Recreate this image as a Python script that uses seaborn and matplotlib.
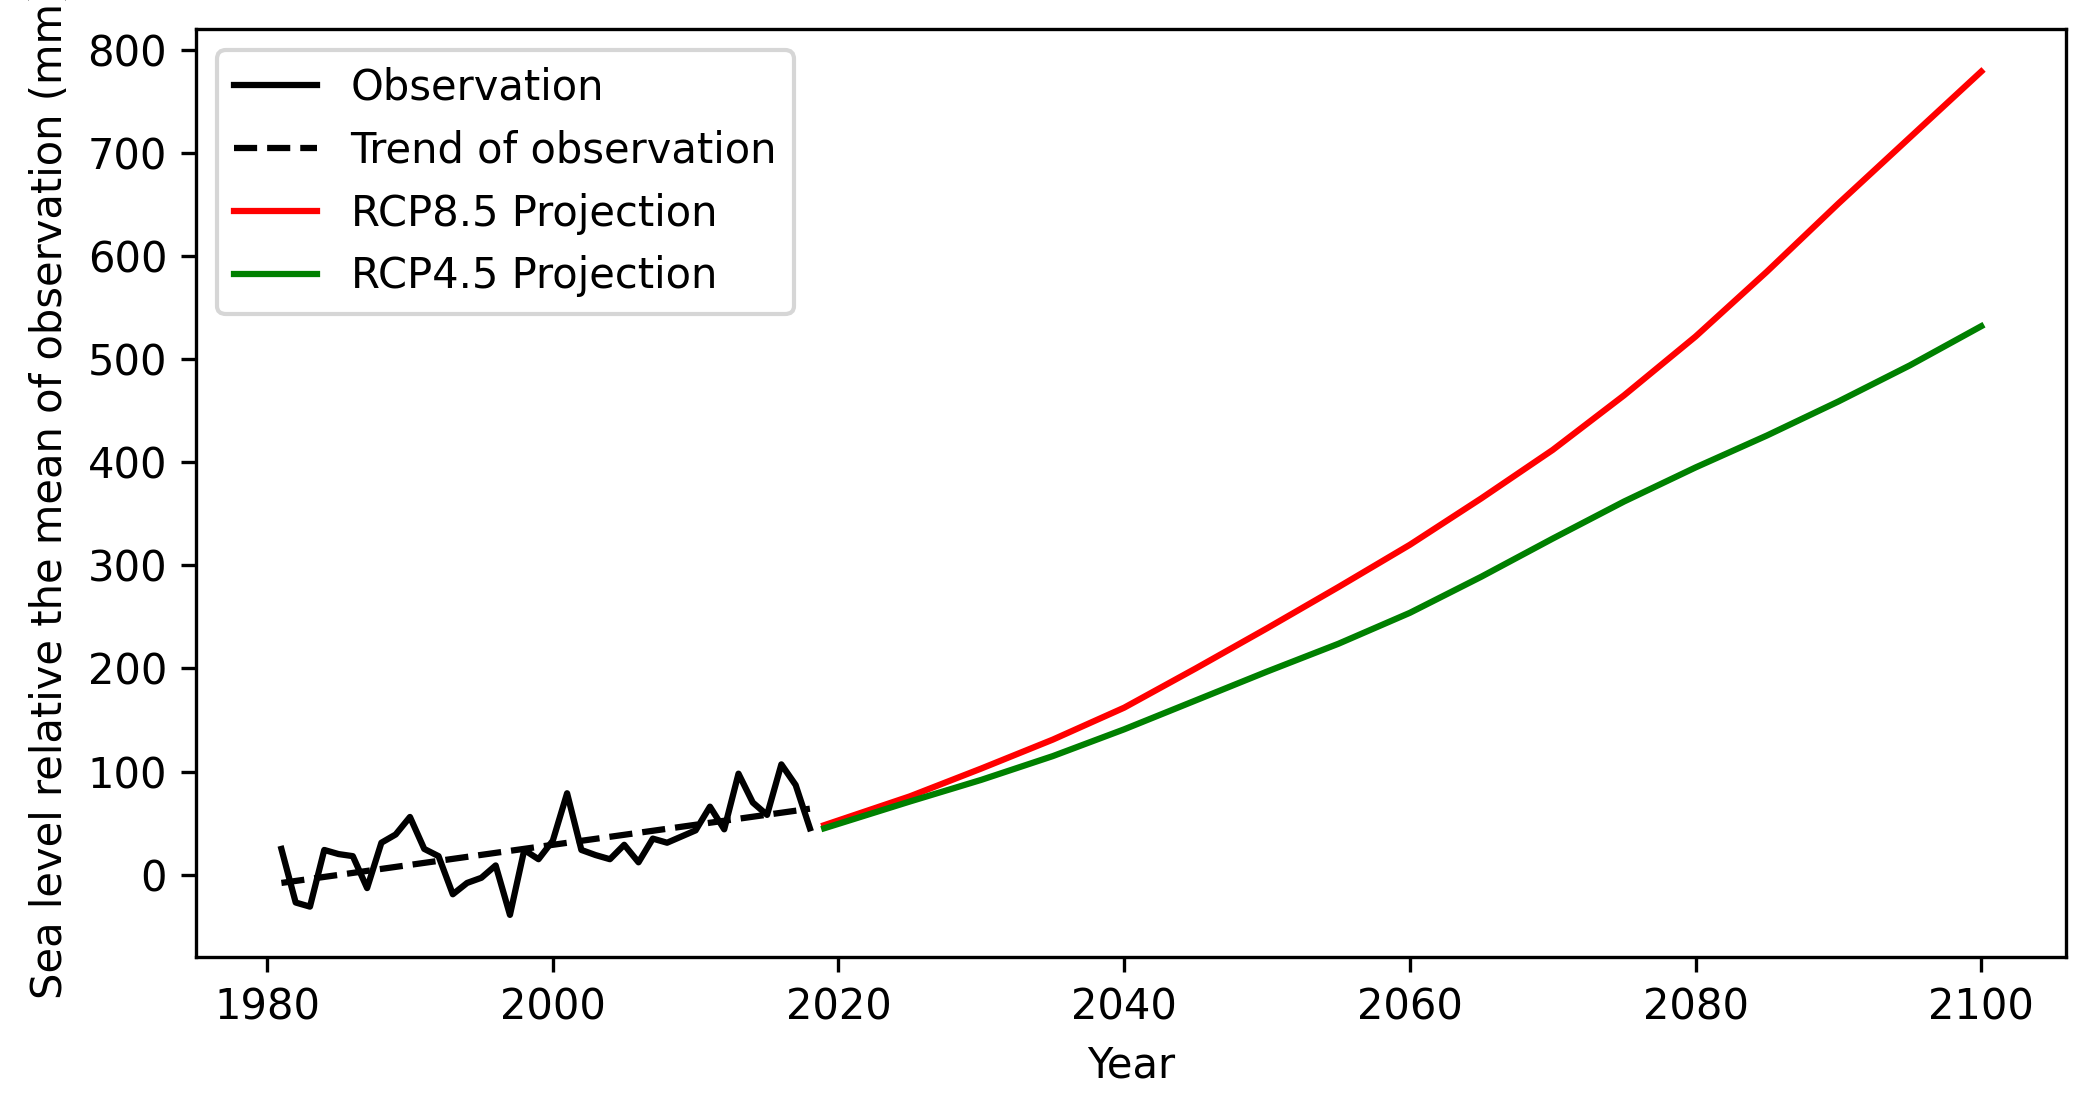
import matplotlib
matplotlib.use("Agg")
import matplotlib.pyplot as plt
import seaborn as sns

obs_years = list(range(1981, 2019))
obs_values = [25, -27, -31, 24, 20, 18, -13, 31, 39, 56, 25, 18, -19, -8, -3, 9, -39, 24,
              15, 33, 79, 24, 19, 15, 29, 12, 35, 31, 37, 43, 66, 44, 98, 70, 58, 107, 87, 45]

trend_years = [1981, 2018]
trend_values = [-8, 64]

proj_years = [2019, 2025, 2030, 2035, 2040, 2045, 2050, 2055, 2060, 2065, 2070,
              2075, 2080, 2085, 2090, 2095, 2100]
rcp85_values = [48, 76, 103, 131, 162, 200, 239, 279, 320, 365, 412,
                465, 522, 585, 651, 715, 779]
rcp45_values = [45, 71, 92, 115, 141, 169, 197, 224, 254, 289, 326,
                362, 395, 426, 459, 494, 532]

fig, ax = plt.subplots(figsize=(2085 / 300, 1109 / 300), dpi=300)
fig.subplots_adjust(left=0.0942, right=0.991, top=0.9735, bottom=0.137)

sns.lineplot(x=obs_years, y=obs_values, ax=ax, color="black", lw=1.5, label="Observation")
sns.lineplot(x=trend_years, y=trend_values, ax=ax, color="black", lw=1.5,
             linestyle="--", label="Trend of observation")
sns.lineplot(x=proj_years, y=rcp85_values, ax=ax, color="red", lw=1.5, label="RCP8.5 Projection")
sns.lineplot(x=proj_years, y=rcp45_values, ax=ax, color="green", lw=1.5, label="RCP4.5 Projection")

ax.set_xlabel("Year")
ax.set_ylabel("Sea level relative the mean of observation (mm)")
ax.set_yticks(range(0, 801, 100))
ax.set_xticks(range(1980, 2101, 20))
ax.legend(loc="upper left")

fig.savefig("out.png", dpi=300)
